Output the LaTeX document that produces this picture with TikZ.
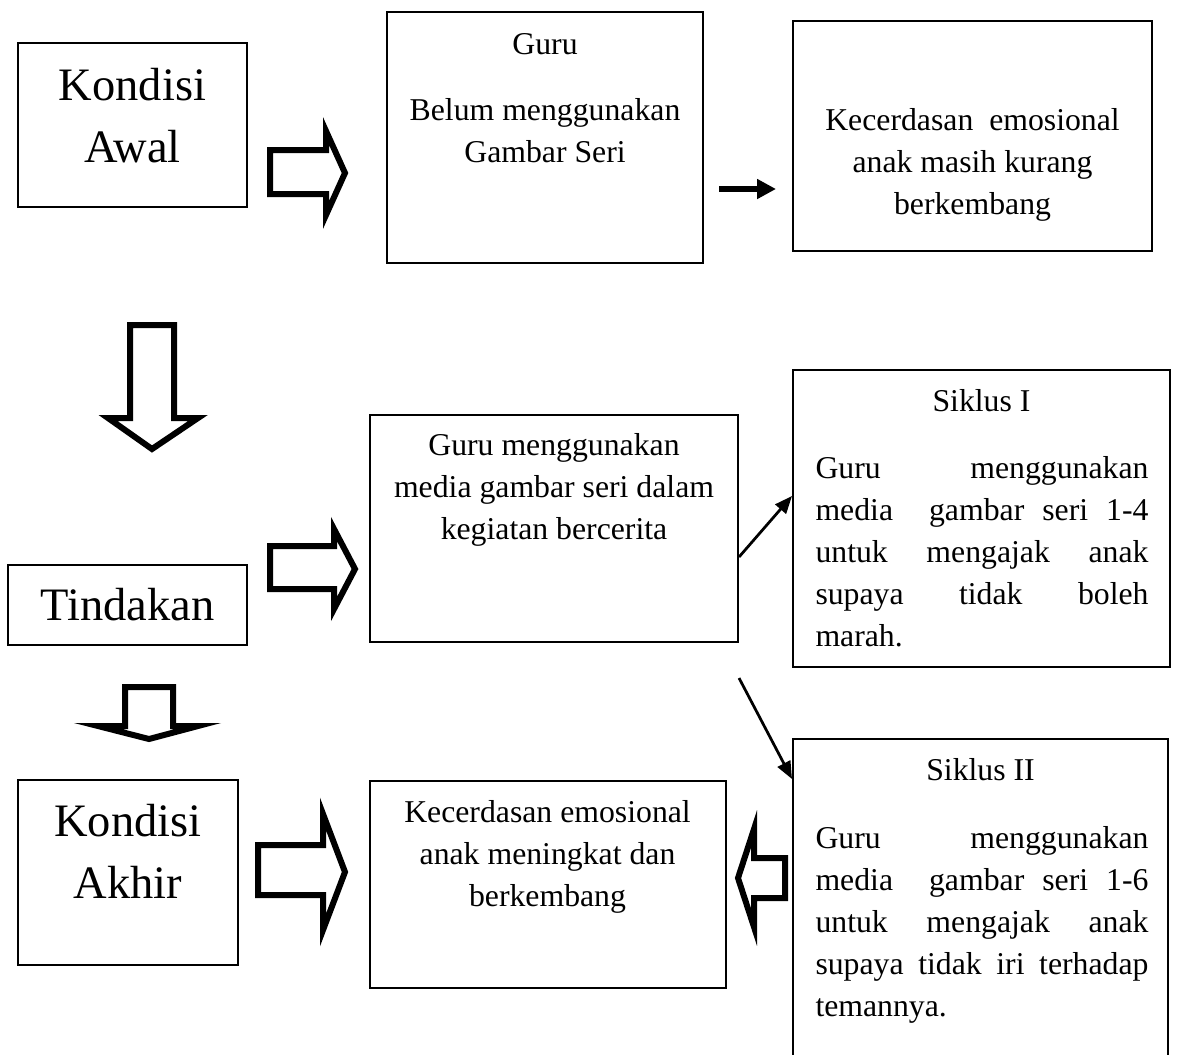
\documentclass[tikz,border=0pt]{standalone}
\usepackage{fontspec}
\setmainfont{Liberation Serif}
\usetikzlibrary{arrows.meta}
\newcommand\ptkline[1]{\makebox[133.2pt][s]{#1}}
\tikzset{
  ptk box/.style 2 args={
    draw,
    line width=0.8pt,
    inner sep=0pt,
    minimum width=#1*0.4pt,
    minimum height=#2*0.4pt
  },
  ptk text/.style={anchor=north, inner sep=0pt, align=center, font=\fontsize{12.7}{16.8}\selectfont},
  ptk big/.style={anchor=north, inner sep=0pt, align=center, font=\fontsize{18.6}{24.8}\selectfont},
  ptk just/.style={anchor=north west, inner sep=0pt, align=left, font=\fontsize{12.7}{16.8}\selectfont},
  ptk block/.style={draw, line width=2.4pt, line join=miter},
  ptk thin/.style={-{Triangle[length=7pt,width=5.6pt]}, line width=1.1pt},
  ptk thick/.style={-{Triangle[length=7.6pt,width=7.6pt]}, line width=2.6pt}
}

\begin{document}
\begin{tikzpicture}[x=0.4pt, y=-0.4pt]
\useasboundingbox (0,0) rectangle (1177,1054);
% boxes
\node[ptk box={229}{164}] (awal) at (132.5,125) {};
\node[ptk box={316}{251}] (guru) at (545,137.5) {};
\node[ptk box={359}{230}] (kurang) at (972.5,136) {};
\node[ptk box={239}{80}] (tind) at (127.5,605) {};
\node[ptk box={368}{227}] (media) at (554,528.5) {};
\node[ptk box={377}{297}] (sik1) at (981.5,518.5) {};
\node[ptk box={220}{185}] (akhir) at (128,872.5) {};
\node[ptk box={356}{207}] (naik) at (547.5,884.5) {};
\node[ptk box={375}{330}] (sik2) at (980.5,904) {};
% texts
\node[ptk big] (awalT) at (132.5,68) {Kondisi\\Awal};
\node[ptk text] (guruT) at (545,33) {Guru};
\node[ptk text] (belumT) at (545,98) {Belum menggunakan\\Gambar Seri};
\node[ptk text] (kurangT) at (972.5,108) {Kecerdasan\ \ emosional\\anak masih kurang\\berkembang};
\node[ptk big] (tindT) at (127.5,588) {Tindakan};
\node[ptk text] (mediaT) at (554,433) {Guru menggunakan\\media gambar seri dalam\\kegiatan bercerita};
\node[ptk text] (sik1T) at (981.5,389) {Siklus I};
\node[ptk just] (sik1B) at (815,456) {\ptkline{Guru menggunakan}\\\ptkline{media\ \ gambar seri 1-4}\\\ptkline{untuk mengajak anak}\\\ptkline{supaya tidak boleh}\\marah.};
\node[ptk big] (akhirT) at (128,804) {Kondisi\\Akhir};
\node[ptk text] (naikT) at (547.5,800) {Kecerdasan emosional\\anak meningkat dan\\berkembang};
\node[ptk text] (sik2T) at (980.5,758) {Siklus II};
\node[ptk just] (sik2B) at (815,826) {\ptkline{Guru menggunakan}\\\ptkline{media\ \ gambar seri 1-6}\\\ptkline{untuk mengajak anak}\\\ptkline{supaya tidak iri terhadap}\\temannya.};
% block arrows
\draw[ptk block] (270,150) -- (326,150) -- (326,131) -- (345,173) -- (326,215) -- (326,194) -- (270,194) -- cycle;
\draw[ptk block] (130,325) -- (130,418) -- (108,418) -- (152,449) -- (198,418) -- (174,418) -- (174,325) -- cycle;
\draw[ptk block] (270,546) -- (334,546) -- (334,529) -- (355,569) -- (334,609) -- (334,589) -- (270,589) -- cycle;
\draw[ptk block] (125,687) -- (125,726) -- (98,726) -- (149,739) -- (198,726) -- (173,726) -- (173,687) -- cycle;
\draw[ptk block] (258,845) -- (323,845) -- (323,814) -- (345,872) -- (323,930) -- (323,895) -- (258,895) -- cycle;
\draw[ptk block] (785,858) -- (754,858) -- (754,829) -- (738,878) -- (754,927) -- (754,898) -- (785,898) -- cycle;
% connectors
\draw[ptk thick] ([shift={(15,51.5)}]guru.east) -- ([shift={(-16,53)}]kurang.west);
\draw[ptk thin] ([shift={(0,28.5)}]media.east) -- ([shift={(0,-22.5)}]sik1.west);
\draw[ptk thin] ([shift={(0,35)}]media.south east) -- ([shift={(0,41)}]sik2.north west);
\end{tikzpicture}
\end{document}
